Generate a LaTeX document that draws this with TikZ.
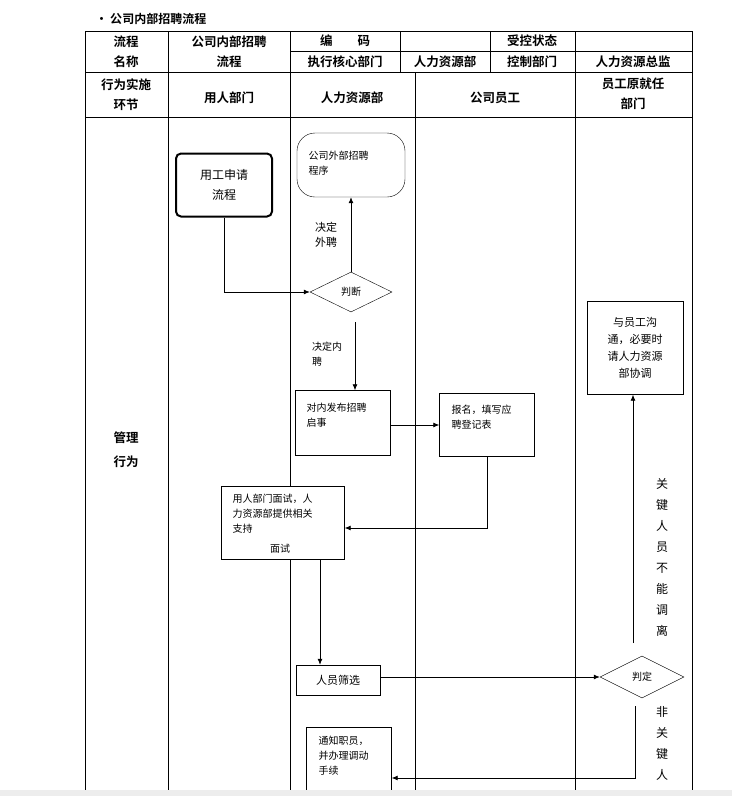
\documentclass[tikz,border=0pt]{standalone}
\usepackage{fontspec}
\setmainfont{Noto Sans CJK SC}
\newfontfamily\cjkb{Noto Sans CJK SC Bold}
\usetikzlibrary{shapes.geometric,arrows.meta}
\begin{document}
\begin{tikzpicture}[x=1pt,y=-1pt,
  hd/.style={font=\cjkb\fontsize{12.5}{20}\selectfont,align=center},
  dm/.style={draw,fill=white,diamond,aspect=2.1,inner sep=1pt,font=\fontsize{10}{12}\selectfont},
  ar/.style={-{Latex[length=6pt,width=5pt]},line width=0.8pt},
  lb/.style={font=\fontsize{11}{15}\selectfont,align=center},
  tx/.style={anchor=north west,font=\fontsize{10}{15}\selectfont,align=left}]
\useasboundingbox (0,0) rectangle (732,796);
\fill[white] (0,0) rectangle (732,796);
\begin{scope}
\clip (0,0) rectangle (732,790);
% table
\draw[line width=0.8pt] (85,31) rectangle (692,850);
\foreach \y in {72,117} \draw (85,\y) -- (692,\y);
\draw (290,51) -- (692,51);
\foreach \x in {168,290,575} \draw (\x,31) -- (\x,850);
\foreach \x in {400,490} \draw (\x,31) -- (\x,72);
\draw (415,72) -- (415,850);
\node[hd] at (126,52) {流程\\名称};
\node[hd] at (229,52) {公司内部招聘\\流程};
\node[hd] at (345,41) {编\hspace{2em}码};
\node[hd] at (532,41) {受控状态};
\node[hd] at (345,62) {执行核心部门};
\node[hd] at (445,62) {人力资源部};
\node[hd] at (532,62) {控制部门};
\node[hd] at (633,62) {人力资源总监};
\node[hd] at (126,95) {行为实施\\环节};
\node[hd] at (229,98) {用人部门};
\node[hd] at (352,98) {人力资源部};
\node[hd] at (495,98) {公司员工};
\node[hd] at (633,94) {员工原就任\\部门};
\node[hd,font=\cjkb\fontsize{12.5}{24}\selectfont] (mg) at (126,450) {管理\\行为};
% nodes
\node[draw,fill=white,line width=2pt,rounded corners=5pt,minimum width=96pt,minimum height=63pt,lb,font=\fontsize{12}{20}\selectfont] (a) at (224,185) {用工申请\\流程};
\node[draw,fill=white,rounded corners=18pt,minimum width=108pt,minimum height=64pt] (b) at (351,165) {};
\node[tx] at (305,148) {公司外部招聘\\程序};
\node[dm,minimum width=82pt,minimum height=40pt] (d1) at (351,292) {判断};
\node[draw,fill=white,minimum width=95pt,minimum height=65pt] (c) at (343,423) {};
\node[tx] at (303,400) {对内发布招聘\\启事};
\node[draw,fill=white,minimum width=95pt,minimum height=63pt] (e) at (487,425) {};
\node[tx] at (448,401) {报名，填写应\\聘登记表};
\node[draw,fill=white,minimum width=123pt,minimum height=73pt] (f) at (283,523) {};
\node[tx] at (229,491) {用人部门面试，人\\力资源部提供相关\\支持};
\node[font=\fontsize{10}{15}\selectfont] at (280,549) {面试};
\node[draw,fill=white,minimum width=84pt,minimum height=30pt,font=\fontsize{11}{14}\selectfont] (g) at (338,680) {人员筛选};
\node[dm,minimum width=84pt,minimum height=42pt] (d2) at (642,677) {判定};
\node[draw,fill=white,minimum width=96pt,minimum height=93pt,font=\fontsize{11}{17}\selectfont,align=center] (h) at (635,348) {与员工沟\\通，必要时\\请人力资源\\部协调};
\node[draw,fill=white,minimum width=85pt,minimum height=80pt] (k) at (349,767) {};
\node[tx] at (315,733) {通知职员，\\并办理调动\\手续};
% labels
\node[lb] at (326,235) {决定\\外聘};
\node[font=\fontsize{10}{15}\selectfont,align=left] at (327,354) {决定内\\聘};
\node[lb,font=\fontsize{12}{21}\selectfont] at (662,557) {关\\键\\人\\员\\不\\能\\调\\离};
\node[lb,font=\fontsize{12}{21}\selectfont,anchor=north] at (662,703) {非\\关\\键\\人\\员};
% connectors
\draw[ar] (a.south) |- (d1.west);
\draw[ar] (d1.north) -- (b.south);
\draw[ar] (355,322) -- (c.north -| 355,0);
\draw[ar] (c.east |- 0,425) -- (e.west |- 0,425);
\draw[ar] (e.south) |- (f.east |- 0,528);
\draw[ar] (f.south -| 320,0) -- (g.north -| 320,0);
\draw[ar] (g.east |- 0,677) -- (d2.west);
\coordinate (u1) at (633,643);
\draw[ar] (u1) -- (h.south -| u1);
\coordinate (u2) at (635,706);
\draw[ar] (u2) |- (k.east |- 0,778);
\end{scope}
\node[font=\cjkb\fontsize{12}{14}\selectfont,anchor=west] (t) at (92,19) {• 公司内部招聘流程};
\fill[black!7] (0,790) rectangle (732,796);
\end{tikzpicture}
\end{document}
